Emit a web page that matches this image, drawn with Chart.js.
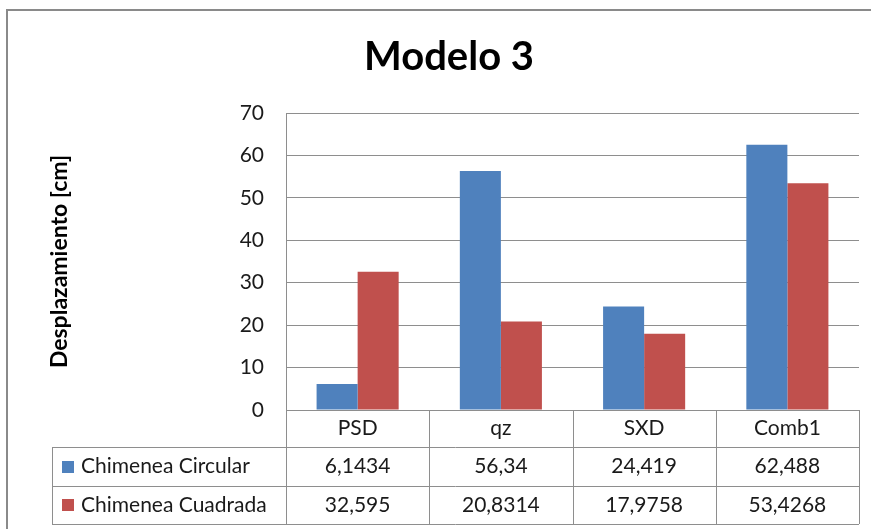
<!DOCTYPE html>
<html>
<head>
<meta charset="utf-8">
<script src="https://cdn.jsdelivr.net/npm/chart.js@4/dist/chart.umd.min.js"></script>
<style>
  html, body { margin: 0; padding: 0; background: #fff; overflow: hidden; }
  #wrap { width: 871px; height: 529px; }
</style>
</head>
<body>
<div id="wrap"><canvas id="modelo"></canvas></div>
<script>
const categories = ['PSD', 'qz', 'SXD', 'Comb1'];
const circular = [6.1434, 56.34, 24.419, 62.488];
const cuadrada = [32.595, 20.8314, 17.9758, 53.4268];
const seriesNames = ['Chimenea Circular', 'Chimenea Cuadrada'];
const seriesColors = ['#4F81BD', '#C0504D'];

const FONT = 'Lato, "Open Sans", sans-serif';
const lineGray = '#8E8E8E';

// excel style numbers: decimal comma
const fmt = (v) => String(v).replace('.', ',');

// white background + outer frame (left and top edges only are on screen)
const framePlugin = {
  id: 'frame',
  beforeDraw(chart) {
    const ctx = chart.ctx;
    ctx.save();
    ctx.fillStyle = '#fff';
    ctx.fillRect(0, 0, chart.width, chart.height);
    ctx.strokeStyle = '#8A8A8A';
    ctx.lineWidth = 2;
    ctx.beginPath();
    ctx.moveTo(7, chart.height);
    ctx.lineTo(7, 10);
    ctx.lineTo(chart.width, 10);
    ctx.stroke();
    ctx.restore();
  }
};

// data table under the plot, aligned to the x scale
const tablePlugin = {
  id: 'dataTable',
  afterDraw(chart) {
    const ctx = chart.ctx;
    const area = chart.chartArea;
    const x = chart.scales.x;
    const colW = (area.right - area.left) / categories.length;
    const rowTops = [area.bottom, area.bottom + 37, area.bottom + 76, area.bottom + 114];
    const tableLeft = 52;

    ctx.save();
    ctx.strokeStyle = lineGray;
    ctx.lineWidth = 1;
    ctx.beginPath();
    ctx.moveTo(area.left, rowTops[0] + 0.5); ctx.lineTo(area.right, rowTops[0] + 0.5);
    for (let r = 1; r < rowTops.length; r++) {
      ctx.moveTo(tableLeft, rowTops[r] + 0.5);
      ctx.lineTo(area.right, rowTops[r] + 0.5);
    }
    ctx.moveTo(tableLeft + 0.5, rowTops[1]); ctx.lineTo(tableLeft + 0.5, rowTops[3]);
    for (let c = 0; c <= categories.length; c++) {
      const cx = Math.round(area.left + c * colW) + 0.5;
      ctx.moveTo(cx, rowTops[0]); ctx.lineTo(cx, rowTops[3]);
    }
    ctx.stroke();

    ctx.fillStyle = '#1a1a1a';
    ctx.font = '21px ' + FONT;
    ctx.textAlign = 'center';
    ctx.textBaseline = 'middle';
    const rows = [circular, cuadrada];
    categories.forEach((cat, i) => {
      const cx = x.getPixelForValue(i);
      ctx.fillText(cat, cx, (rowTops[0] + rowTops[1]) / 2);
      rows.forEach((vals, r) => {
        ctx.fillText(fmt(vals[i]), cx, (rowTops[r + 1] + rowTops[r + 2]) / 2);
      });
    });

    ctx.textAlign = 'left';
    seriesNames.forEach((name, r) => {
      const cy = (rowTops[r + 1] + rowTops[r + 2]) / 2;
      ctx.fillStyle = seriesColors[r];
      ctx.fillRect(62, Math.round(cy) - 6, 12, 12);
      ctx.fillStyle = '#1a1a1a';
      ctx.fillText(name, 81, cy);
    });
    ctx.restore();
  }
};

new Chart(document.getElementById('modelo'), {
  type: 'bar',
  data: {
    labels: categories,
    datasets: [
      { label: seriesNames[0], data: circular, backgroundColor: seriesColors[0] },
      { label: seriesNames[1], data: cuadrada, backgroundColor: seriesColors[1] }
    ]
  },
  options: {
    responsive: true,
    maintainAspectRatio: false,
    animation: false,
    events: [],
    layout: { padding: { left: 39, right: 12, top: 0, bottom: 119 } },
    datasets: { bar: { categoryPercentage: 0.573, barPercentage: 1 } },
    plugins: {
      legend: { display: false },
      tooltip: { enabled: false },
      title: {
        display: true,
        text: 'Modelo 3',
        color: '#000',
        font: { family: FONT, size: 40, weight: 'bold' },
        padding: { top: 33, bottom: 32 }
      }
    },
    scales: {
      x: { display: false },
      y: {
        min: 0,
        max: 70,
        ticks: { stepSize: 10, color: '#1a1a1a', padding: 22, font: { family: FONT, size: 21 } },
        grid: { color: lineGray, drawTicks: false },
        border: { display: true, color: lineGray },
        title: {
          display: true,
          text: 'Desplazamiento [cm]',
          color: '#000',
          font: { family: FONT, size: 23, weight: 'bold' },
          padding: { top: 7, bottom: 0 }
        },
        afterFit(scale) { scale.width = 247; }
      }
    }
  },
  plugins: [framePlugin, tablePlugin]
});
</script>
</body>
</html>
